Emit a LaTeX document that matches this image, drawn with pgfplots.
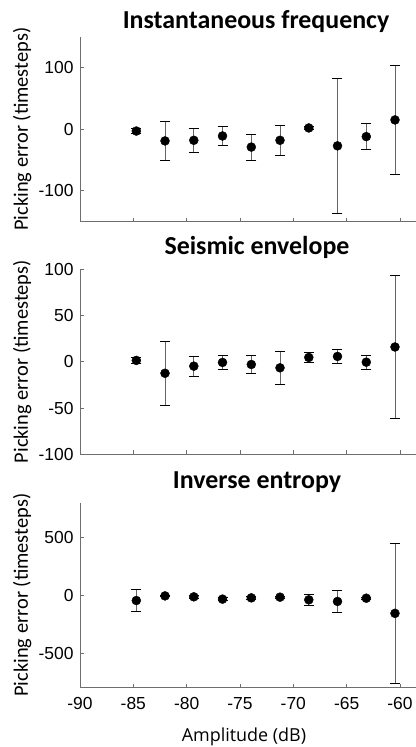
\documentclass[border=0pt]{standalone}
\usepackage{fontspec}
\usepackage{pgfplots}
\usepackage{pgfplotstable}
\pgfplotsset{compat=1.18}
\setmainfont{Liberation Sans}
\newfontfamily\calibri{Carlito}
\newfontfamily\segoe{Open Sans}
\definecolor{axgray}{RGB}{110,110,110}
\definecolor{errgray}{RGB}{100,100,100}

\pgfplotstableread{
x y e
-84.72 -3 4
-82.03 -19 31
-79.33 -18 19
-76.64 -11 16
-73.94 -29 21
-71.25 -18 24
-68.55 2 3
-65.86 -27 110
-63.16 -12 21
-60.47 15 89
}\freqdata
\pgfplotstableread{
x y e
-84.72 1.5 3
-82.03 -12.4 34.7
-79.33 -4.7 11
-76.64 -0.7 8
-73.94 -2.9 9.6
-71.25 -6.5 17.5
-68.55 4.7 5.3
-65.86 5.8 8
-63.16 -0.4 7.5
-60.47 16 77
}\envdata
\pgfplotstableread{
x y e
-84.72 -46 96
-82.03 -6 8
-79.33 -14 10
-76.64 -34 12
-73.94 -23 10
-71.25 -17 10
-68.55 -40 45
-65.86 -54 98
-63.16 -26 8
-60.47 -157 605
}\entdata

\pgfplotsset{
  panel/.style={
    scale only axis, width=336bp, height=185bp,
    xmin=-90, xmax=-58.5,
    xtick={-90,-85,...,-60},
    axis x line*=bottom, axis y line*=left,
    axis line style={axgray, line width=0.8bp},
    tick style={axgray, line width=0.8bp},
    tick align=inside, major tick length=4bp,
    /pgf/number format/assume math mode=true,
    ticklabel style={font=\fontsize{17.5}{20}\selectfont, text=black},
    yticklabel style={anchor=east, xshift=-3bp},
    ylabel={Picking error (timesteps)},
    ylabel style={font=\calibri\fontsize{20.5}{24}\selectfont, at={(axis description cs:-0.1548,0.5)}, anchor=base},
    clip=false,
  },
  ebar/.style={
    only marks, mark=*, mark size=4.5bp, mark options={black, fill=black},
    error bars/.cd, y dir=both, y explicit,
    error bar style={errgray, line width=0.9bp},
    error mark options={black, line width=0.9bp, mark size=5bp, rotate=90},
  },
}

\begin{document}
\begin{tikzpicture}
\path[use as bounding box] (0,0) rectangle (416bp,747bp);
\begin{axis}[panel, at={(80bp,525.3bp)}, anchor=south west,
  ymin=-150, ymax=150, ytick={-100,0,100}, xticklabels={}]
\addplot+[ebar] table[x=x, y=y, y error=e] {\freqdata};
\end{axis}
\begin{axis}[panel, at={(80bp,292.7bp)}, anchor=south west,
  ymin=-100, ymax=100, ytick={-100,-50,0,50,100}, xticklabels={}]
\addplot+[ebar] table[x=x, y=y, y error=e] {\envdata};
\end{axis}
\begin{axis}[panel, at={(80bp,59.3bp)}, anchor=south west,
  ymin=-800, ymax=800, ytick={-500,0,500},
  xticklabel style={anchor=north, yshift=-6bp},
  xlabel={Amplitude (dB)},
  xlabel style={font=\segoe\fontsize{18}{20}\selectfont, at={(axis description cs:0.488,-0.292)}, anchor=base}]
\addplot+[ebar] table[x=x, y=y, y error=e] {\entdata};
\end{axis}
\node[anchor=base, font=\calibri\bfseries\fontsize{26}{30}\selectfont] at (256bp,718.5bp) {Instantaneous frequency};
\node[anchor=base, font=\calibri\bfseries\fontsize{26}{30}\selectfont] at (257bp,492bp) {Seismic envelope};
\node[anchor=base, font=\calibri\bfseries\fontsize{26}{30}\selectfont] at (257bp,258.7bp) {Inverse entropy};
\end{tikzpicture}
\end{document}
